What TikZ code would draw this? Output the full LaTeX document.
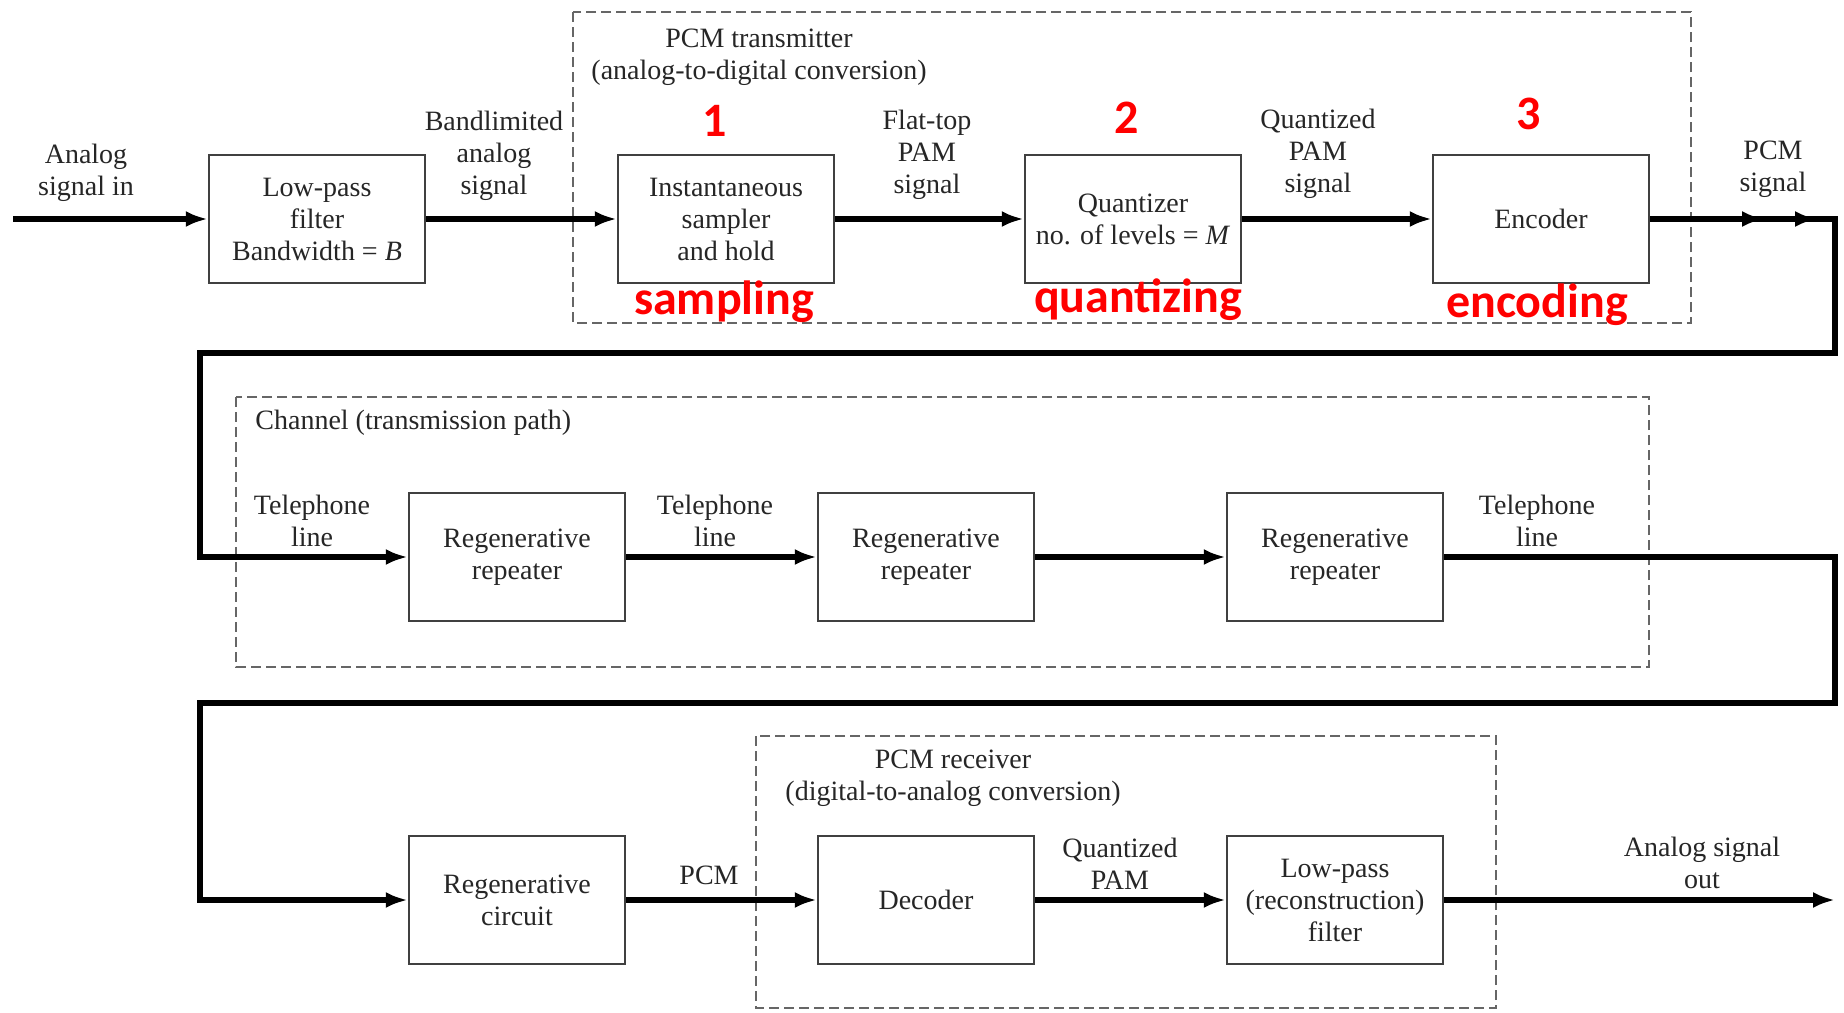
\documentclass[tikz,border=0pt]{standalone}
\usepackage{fontspec}
\setmainfont{Liberation Serif}
\newfontfamily\redfont{Carlito}
\usetikzlibrary{arrows.meta}
\begin{document}
\begin{tikzpicture}[x=0.5pt,y=-0.5pt,
  blk/.style={draw=black!75,line width=1.2pt,minimum width=108pt,minimum height=64pt,
    align=center,inner sep=2pt,font=\fontsize{14}{16}\selectfont,text=black!85},
  lbl/.style={align=center,font=\fontsize{14}{16}\selectfont,text=black!85,inner sep=1pt},
  redlbl/.style={text=red,font=\redfont\bfseries\fontsize{24}{28}\selectfont,inner sep=0pt},
  grp/.style={draw=black!60,line width=0.9pt,dash pattern=on 5pt off 2.5pt},
  flow/.style={line width=2.6pt,-{Latex[length=11pt,width=8pt]}},
  wire/.style={line width=2.6pt}]
\useasboundingbox[fill=white] (0,0) rectangle (1844,1013);

% group frames
\draw[grp] (573,12) rectangle (1691,323);
\draw[grp] (236,397) rectangle (1649,667);
\draw[grp] (756,736) rectangle (1496,1008);

% row 1
\coordinate (in) at (13,219);
\node[blk] (lpf) at (317,219) {Low-pass\\filter\\Bandwidth = \textit{B}};
\node[blk] (smp) at (726,219) {Instantaneous\\sampler\\and hold};
\node[blk] (qnt) at (1133,219) {Quantizer\\no. of levels = \textit{M}};
\node[blk] (enc) at (1541,219) {Encoder};

\node[lbl] (lin) at (86,173) {Analog\\signal in};
\node[lbl] (lbw) at (494,156) {Bandlimited\\analog\\signal};
\node[lbl] (lft) at (927,155) {Flat-top\\PAM\\signal};
\node[lbl] (lqp) at (1318,154) {Quantized\\PAM\\signal};
\node[lbl] (lpcm) at (1773,169) {PCM\\signal};
\node[lbl] (ttx) at (759,57) {PCM transmitter\\(analog-to-digital conversion)};

\node[redlbl] (n1) at (715,121) {1};
\node[redlbl] (n2) at (1127,118) {2};
\node[redlbl] (n3) at (1529,114) {3};
\node[redlbl] (s1) at (724,302) {sampling};
\node[redlbl] (s2) at (1138,300) {quantizing};
\node[redlbl] (s3) at (1537,305) {encoding};

\draw[flow] (in) -- (lpf.west);
\draw[flow] (lpf.east) -- (smp.west);
\draw[flow] (smp.east) -- (qnt.west);
\draw[flow] (qnt.east) -- (enc.west);

% row 2
\node[blk] (rp1) at (517,557) {Regenerative\\repeater};
\node[blk] (rp2) at (926,557) {Regenerative\\repeater};
\node[blk] (rp3) at (1335,557) {Regenerative\\repeater};
\node[lbl,anchor=west] (tch) at (253,423) {Channel (transmission path)};
\node[lbl] (tl1) at (312,521) {Telephone\\line};
\node[lbl] (tl2) at (715,521) {Telephone\\line};
\node[lbl] (tl3) at (1537,521) {Telephone\\line};

\coordinate (t1) at (1764,219);
\coordinate (t2) at (1817,219);
\coordinate (c1) at (1835,219);
\coordinate (c2) at (1835,353);
\coordinate (c3) at (200,353);
\draw[wire] (enc.east) -- (c1);
\draw[flow] (enc.east) -- (t1);
\draw[flow] (t1) -- (t2);
\draw[flow] (t2) -- (c1) -- (c2) -- (c3) |- (rp1.west);
\draw[flow] (rp1.east) -- (rp2.west);
\draw[flow] (rp2.east) -- (rp3.west);

% row 3
\node[blk] (rgc) at (517,900) {Regenerative\\circuit};
\node[blk] (dec) at (926,900) {Decoder};
\node[blk] (lp2) at (1335,900) {Low-pass\\(reconstruction)\\filter};
\node[lbl] (trx) at (953,778) {PCM receiver\\(digital-to-analog conversion)};
\node[lbl] (lp) at (709,875) {PCM};
\node[lbl] (lqp2) at (1120,864) {Quantized\\PAM};
\node[lbl] (lout) at (1702,863) {Analog signal\\out};

\coordinate (d1) at (1835,557);
\coordinate (d2) at (1835,703);
\coordinate (d3) at (200,703);
\coordinate (out) at (1835,900);
\draw[flow] (rp3.east) -- (d1) -- (d2) -- (d3) |- (rgc.west);
\draw[flow] (rgc.east) -- (dec.west);
\draw[flow] (dec.east) -- (lp2.west);
\draw[flow] (lp2.east) -- (out);
\end{tikzpicture}
\end{document}
